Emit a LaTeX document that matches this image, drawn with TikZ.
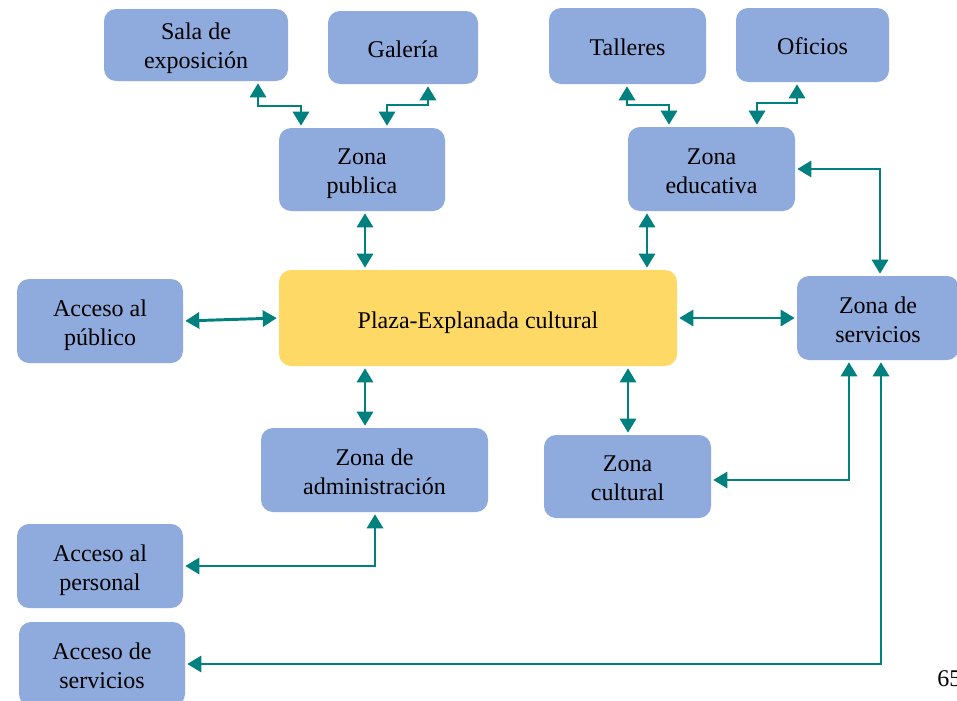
\documentclass[tikz,border=0pt]{standalone}
\usepackage{fontspec}
\setmainfont{Liberation Serif}
\usetikzlibrary{arrows.meta}
\definecolor{boxblue}{RGB}{143,170,220}
\definecolor{plazayellow}{RGB}{255,217,102}
\definecolor{tealc}{RGB}{0,128,127}
\tikzset{
  zbox/.style={fill=boxblue, draw=none, rounded corners=9pt, inner sep=0pt},
  pbox/.style={zbox, fill=plazayellow},
  txt/.style={align=center, inner sep=0pt, text=black, font=\fontsize{18}{21.75}\selectfont},
  conn/.style={draw=tealc, line width=2.2pt, <->, >={Triangle[length=10.5pt,width=12pt]}, shorten <=1.5pt, shorten >=1.5pt},
}
% #1 style, #2 name, #3 center, #4 width px, #5 height px, #6 text shift px, #7 text
\newcommand\zbx[7]{%
  \node[#1, minimum width=#4*0.75pt, minimum height=#5*0.75pt] (#2) at (#3) {};
  \node[txt] (#2-t) at ([yshift=-#6*0.75pt]#2.center) {#7};}
\begin{document}
\begin{tikzpicture}[x=0.75pt,y=-0.75pt]
\clip (0,0) rectangle (957,700);
\fill[white] (0,0) rectangle (957,700);
% nodes
\zbx{zbox}{sala}{196,45}{184}{72}{3}{Sala de\\exposición}
\zbx{zbox}{gal}{403,47.5}{150}{73}{1.5}{Galería}
\zbx{zbox}{tall}{627.5,46}{157}{76}{1}{Talleres}
\zbx{zbox}{ofi}{812.5,45}{153}{74}{1}{Oficios}
\zbx{zbox}{zpub}{362,169.5}{166}{83}{4}{Zona\\publica}
\zbx{zbox}{zedu}{711.5,169}{167}{84}{2}{Zona\\educativa}
\zbx{zbox}{accpub}{100,321}{166}{84}{4}{Acceso al\\público}
\zbx{pbox}{plaza}{478,318}{398}{96}{4.5}{Plaza-Explanada cultural}
\zbx{zbox}{zserv}{878,318}{162}{84}{2}{Zona de\\servicios}
\zbx{zbox}{zadm}{374.5,470}{227}{84}{2}{Zona de\\administración}
\zbx{zbox}{zcul}{627.5,476.5}{167}{83}{2}{Zona\\cultural}
\zbx{zbox}{accper}{100,566}{166}{84}{4}{Acceso al\\personal}
\zbx{zbox}{accserv}{102,664}{166}{84}{2}{Acceso de\\servicios}
\node[anchor=west, inner sep=0pt, font=\fontsize{18}{21.75}\selectfont] (pnum) at (937,679) {65};
% connectors
\draw[conn] (258,0 |- sala.south) -- (258,106) -| (301,0 |- zpub.north);
\draw[conn] (387,0 |- zpub.north) -- (387,105) -| (428,0 |- gal.south);
\draw[conn] (627,0 |- tall.south) -- (627,105) -| (669,0 |- zedu.north);
\draw[conn] (757,0 |- zedu.north) -- (757,103) -| (797,0 |- ofi.south);
\draw[conn] (zedu.east) -| (880,0 |- zserv.north);
\draw[conn] (365,0 |- zpub.south) -- (365,0 |- plaza.north);
\draw[conn] (647,0 |- zedu.south) -- (647,0 |- plaza.north);
\draw[conn] (accpub.east) -- (plaza.west);
\draw[conn] (plaza.east) -- (zserv.west);
\draw[conn] (365,0 |- plaza.south) -- (365,0 |- zadm.north);
\draw[conn] (628,0 |- plaza.south) -- (628,0 |- zcul.north);
\draw[conn] (zcul.east |- 0,480) -| (849,0 |- zserv.south);
\draw[conn] (375,0 |- zadm.south) |- (accper.east);
\draw[conn] (881,0 |- zserv.south) |- (accserv.east);
\end{tikzpicture}
\end{document}
